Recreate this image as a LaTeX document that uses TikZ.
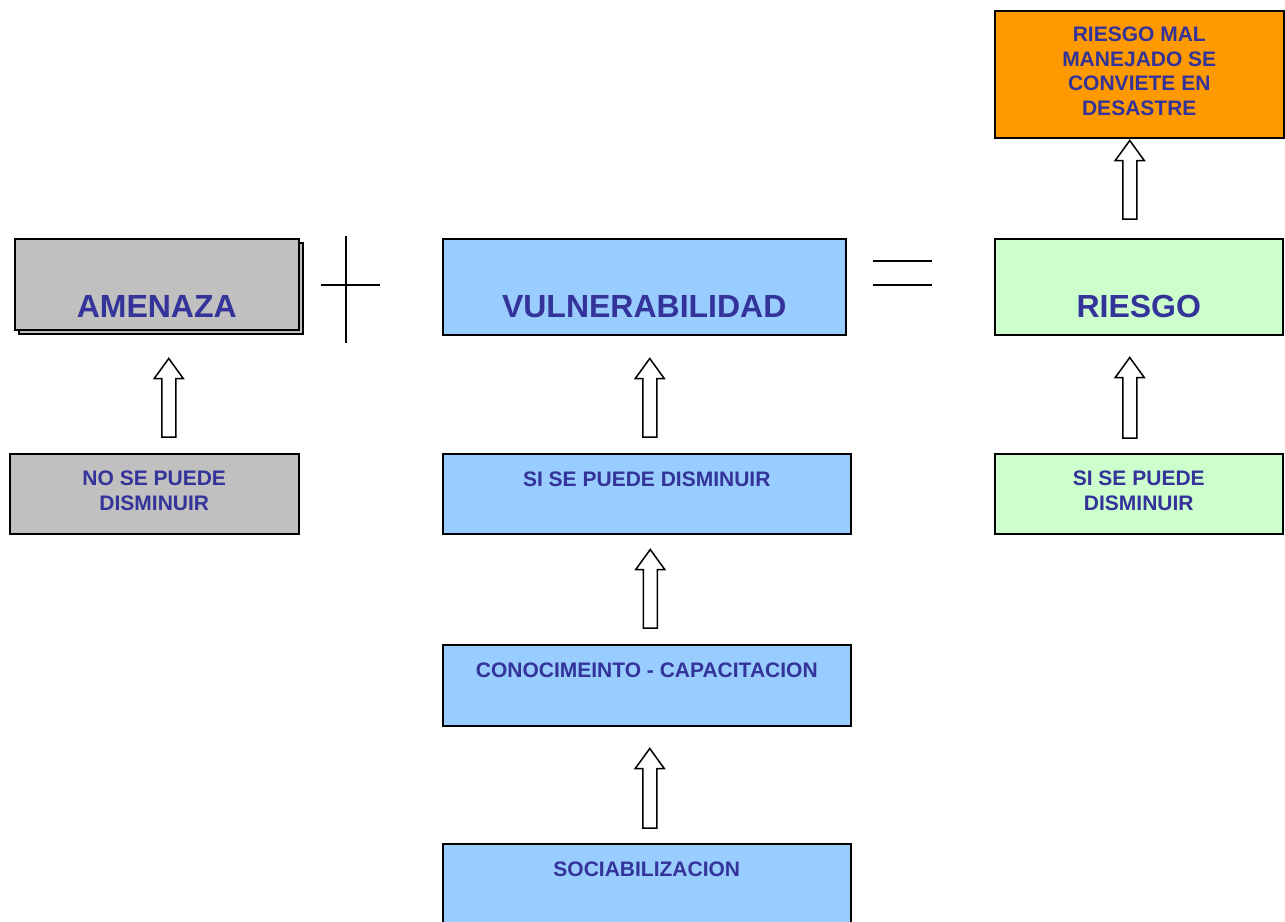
\documentclass[tikz,border=0pt]{standalone}
\usepackage{fontspec}
\setmainfont{Liberation Sans}
\usetikzlibrary{calc,shadows}
\definecolor{txtblue}{HTML}{333399}
\definecolor{grayfill}{HTML}{C0C0C0}
\definecolor{bluefill}{HTML}{99CCFF}
\definecolor{greenfill}{HTML}{CCFFCC}
\definecolor{orangefill}{HTML}{FF9900}
\newcommand\hollowup[5]{%
  \path ($(#1.north)+(#3,-#4)$) coordinate (ab) ($(ab |- #2.south)+(0,#5)$) coordinate (at);
  \draw[hollow] ($(ab)+(-7,0)$) -- ($(ab)+(7,0)$) -- ($(at)+(7,20)$) -- ($(at)+(14.5,20)$) -- (at)
     -- ($(at)+(-14.5,20)$) -- ($(at)+(-7,20)$) -- cycle;}
\begin{document}
\begin{tikzpicture}[x=1pt,y=-1pt,
  box/.style={draw=black, line width=1.5pt, inner sep=0pt, anchor=north west, text=txtblue},
  big/.style={font=\fontsize{32}{36}\selectfont\bfseries},
  small/.style={font=\fontsize{21}{24.5}\selectfont\bfseries, align=center},
  multi/.style={label={[small, text=txtblue, yshift=3pt]center:#1}},
  hollow/.style={draw=black, fill=white, line width=1.5pt, line join=miter},
  sign/.style={draw=black, line width=2.2pt}]
\useasboundingbox[fill=white] (0,0) rectangle (1285,921);
% top row
\node[box, fill=grayfill, big, minimum width=284pt, minimum height=91pt, text height=79pt, text depth=12pt,
      copy shadow={shadow xshift=4pt, shadow yshift=-4pt}] (amen) at (14,238) {AMENAZA};
\node[box, fill=bluefill, big, minimum width=403pt, minimum height=96pt, text height=79pt, text depth=17pt] (vuln) at (442,238) {VULNERABILIDAD};
\node[box, fill=greenfill, big, minimum width=288pt, minimum height=96pt, text height=79pt, text depth=17pt] (ries) at (994,238) {RIESGO};
\node[box, fill=orangefill, minimum width=289pt, minimum height=127pt,
      multi={RIESGO MAL\\MANEJADO SE\\CONVIETE EN\\DESASTRE}] (desa) at (994,10) {};
% second row
\node[box, fill=grayfill, minimum width=289pt, minimum height=80pt,
      multi={NO SE PUEDE\\DISMINUIR}] (nose) at (9,453) {};
\node[box, fill=bluefill, small, minimum width=408pt, minimum height=80pt, text height=33pt, text depth=47pt] (sim) at (442,453) {SI SE PUEDE DISMINUIR};
\node[box, fill=greenfill, minimum width=288pt, minimum height=80pt,
      multi={SI SE PUEDE\\DISMINUIR}] (sir) at (994,453) {};
% lower column
\node[box, fill=bluefill, small, minimum width=408pt, minimum height=81pt, text height=33pt, text depth=48pt] (cono) at (442,644) {CONOCIMEINTO - CAPACITACION};
\node[box, fill=bluefill, small, minimum width=408pt, minimum height=100pt, text height=33pt, text depth=67pt] (soci) at (442,843) {SOCIABILIZACION};
% plus and equals
\draw[sign] (346,236) -- (346,343);
\draw[sign] (321,285) -- (380,285);
\draw[sign] (873,261) -- (932,261);
\draw[sign] (873,285) -- (932,285);
% hollow arrows
\hollowup{nose}{amen}{14.5}{16}{28}
\hollowup{sim}{vuln}{3}{16}{23}
\hollowup{cono}{sim}{3.5}{16}{15}
\hollowup{soci}{cono}{3}{15}{22}
\hollowup{sir}{ries}{-9}{15}{22}
\hollowup{ries}{desa}{-9}{19}{2}
\end{tikzpicture}
\end{document}
